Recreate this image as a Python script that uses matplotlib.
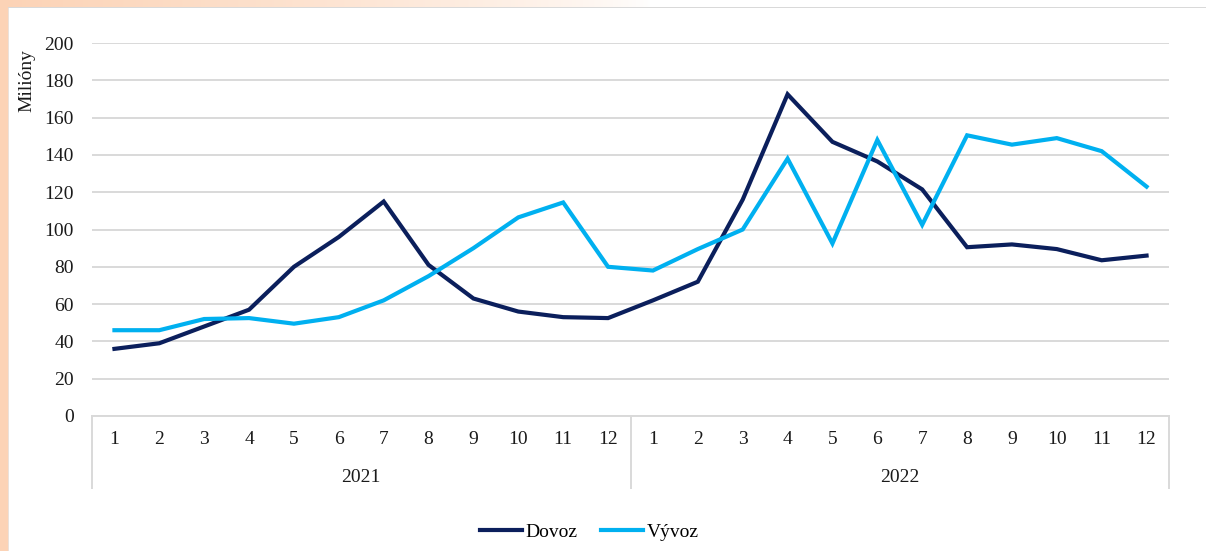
import numpy as np
import matplotlib
matplotlib.use("Agg")
import matplotlib.pyplot as plt
from matplotlib.transforms import blended_transform_factory

# ===== DATA =====
years = ["2021", "2022"]
months = [str(m) for m in range(1, 13)]

# monthly values, millions
dovoz = [36, 39, 48, 57, 80, 96, 115, 81, 63, 56, 53, 52.5,
         62, 72, 116, 172.5, 147, 136.5, 121.5, 90.5, 92, 89.5, 83.5, 86]
vyvoz = [46, 46, 52, 52.5, 49.5, 53, 62, 75, 90, 106.5, 114.5, 80,
         78, 89.5, 100, 138, 92.5, 148, 102.5, 150.5, 145.5, 149, 142, 123]

series_names = ["Dovoz", "Vývoz"]
series_colors = ["#0B1F5C", "#00B0F0"]

# ===== STYLE =====
W, H = 1206, 551
GRID = "#D9D9D9"
TEXT = "#1A1A1A"
FONT = ["Liberation Serif", "DejaVu Serif"]
FS = 14

plt.rcParams["font.family"] = FONT

fig = plt.figure(figsize=(W / 100, H / 100), dpi=100)

# slide background: peach strip on the left, fading band along the top
bg = fig.add_axes([0, 0, 1, 1], zorder=-10)
img = np.ones((H, W, 3))
peach = np.array([252, 211, 182]) / 255
fade = np.clip(1 - np.arange(W) / 650, 0, 1)[:, None] ** 0.7
img[:8, :, :] = (peach * fade + (1 - fade))[None, :, :]
img[:, :8, :] = peach
img[7, 8:, :] = np.array([217, 217, 217]) / 255
img[8:, 8, :] = np.array([235, 225, 218]) / 255
bg.imshow(img, aspect="auto", interpolation="nearest")
bg.set_axis_off()

# ===== PLOT =====
x0, x1 = 92, 1169
y0, y1 = 416, 43
ax = fig.add_axes([x0 / W, 1 - y0 / H, (x1 - x0) / W, (y0 - y1) / H])
ax.set_facecolor("none")

n = len(dovoz)
xs = np.arange(1, n + 1)
lines = []
for vals, name, col in zip([dovoz, vyvoz], series_names, series_colors):
    ln, = ax.plot(xs, vals, color=col, lw=3.0, label=name,
                  solid_joinstyle="miter", zorder=3)
    lines.append(ln)

ax.set_xlim(0.5, n + 0.5)
ax.set_ylim(0, 200)
ax.set_yticks(range(0, 201, 20))
ax.grid(axis="y", color=GRID, lw=1.4)
ax.set_axisbelow(True)
for side in ["top", "right", "left"]:
    ax.spines[side].set_visible(False)
ax.spines["bottom"].set_color(GRID)
ax.spines["bottom"].set_linewidth(1.4)
ax.tick_params(axis="y", length=0, pad=13, labelsize=FS, labelcolor=TEXT)
ax.set_xticks([])

# two-level category axis: months, then years
trans = blended_transform_factory(ax.transData, ax.transAxes)
px = 1 / (y0 - y1)
for i in range(n):
    ax.text(xs[i], -24 * px, months[i % 12], transform=trans, ha="center",
            va="center", fontsize=FS, color=TEXT)
for j, yr in enumerate(years):
    ax.text(12 * j + 6.5, -62 * px, yr, transform=trans, ha="center",
            va="center", fontsize=FS, color=TEXT)
for b in [0.5, 12.5, n + 0.5]:
    ax.plot([b, b], [0, -72 * px], transform=trans, color=GRID, lw=1.4,
            clip_on=False)

fig.text(27 / W, 1 - 81 / H, "Milióny", rotation=90, ha="center",
         va="center", fontsize=FS, color=TEXT)

fig.legend(handles=lines, loc="center", bbox_to_anchor=(589 / W, 1 - 532 / H),
           ncol=2, frameon=False, fontsize=FS, handlelength=2.2,
           handletextpad=0.15, columnspacing=1.2)

fig.savefig("out.png", dpi=100)
